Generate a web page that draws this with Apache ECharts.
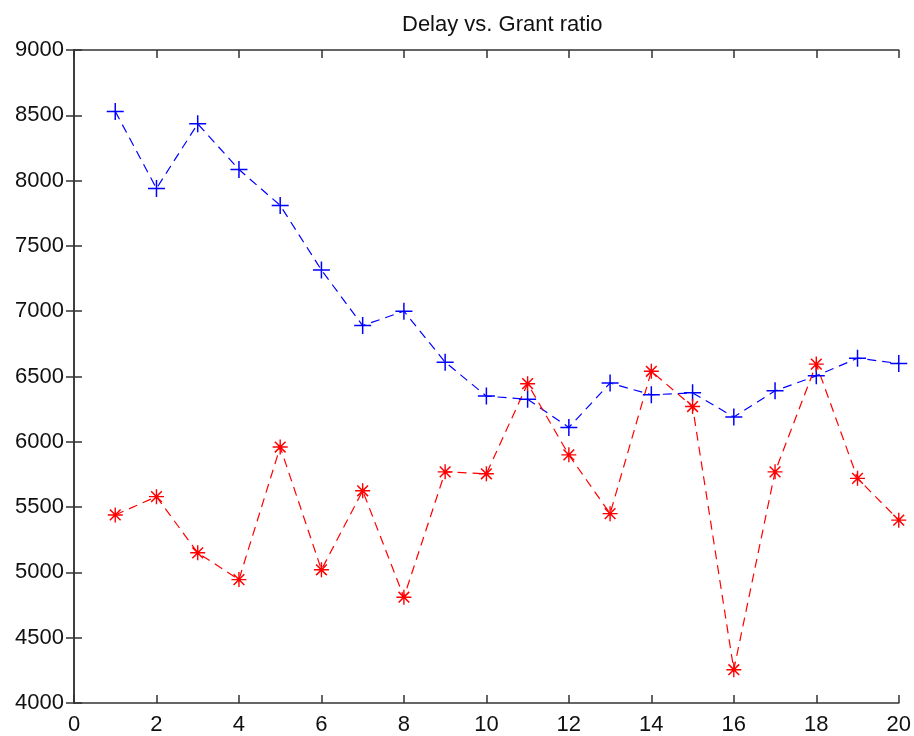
<!DOCTYPE html>
<html>
<head>
<meta charset="utf-8">
<script src="https://cdn.jsdelivr.net/npm/echarts@6/dist/echarts.min.js"></script>
<style>
  html, body { margin: 0; padding: 0; background: #fff; }
  #chart { width: 914px; height: 736px; }
</style>
</head>
<body>
<div id="chart"></div>
<script>
// grant ratio index
var xs = [1, 2, 3, 4, 5, 6, 7, 8, 9, 10, 11, 12, 13, 14, 15, 16, 17, 18, 19, 20];
// blue '+' series
var delayBlue = [8530, 7940, 8435, 8085, 7810, 7315, 6890, 7000, 6610, 6350,
                 6325, 6110, 6450, 6360, 6375, 6190, 6390, 6505, 6640, 6600];
// red '*' series
var delayRed = [5440, 5580, 5150, 4945, 5960, 5020, 5625, 4810, 5770, 5755,
                6445, 5900, 5450, 6540, 6270, 4255, 5770, 6595, 5720, 5400];

function pairs(ys) {
  return xs.map(function (x, i) { return [x, ys[i]]; });
}

var plusPath = 'path://M0,7.3H16V8.7H0Z M7.3,0H8.7V16H7.3Z';
var starPath = 'path://M0,6.35H14V7.65H0Z M6.35,0H7.65V14H6.35Z ' +
  'M1.5,2.5L2.5,1.5L12.5,11.5L11.5,12.5Z M11.5,1.5L12.5,2.5L2.5,12.5L1.5,11.5Z';

var lineCol = '#333';
function labelFont(margin) {
  return { color: '#111', fontSize: 22, fontFamily: 'Liberation Sans', margin: margin };
}
function tick() {
  return { show: true, inside: true, length: 8, lineStyle: { color: lineCol, width: 1.5 } };
}
function axLine() {
  return { show: true, lineStyle: { color: lineCol, width: 1.5 } };
}

var chart = echarts.init(document.getElementById('chart'));
chart.setOption({
  animation: false,
  backgroundColor: '#fff',
  title: {
    text: 'Delay vs. Grant ratio',
    left: 397,
    top: 9,
    textStyle: { color: '#111', fontSize: 22, fontWeight: 'normal', fontFamily: 'Liberation Sans' }
  },
  grid: { left: 74, right: 12, top: 50, bottom: 33 },
  xAxis: [
    {
      type: 'value', min: 0, max: 20, interval: 2,
      axisLine: axLine(),
      axisTick: tick(),
      axisLabel: labelFont(11),
      splitLine: { show: false }
    },
    {
      type: 'value', min: 0, max: 20, interval: 2, position: 'top',
      axisLine: axLine(),
      axisTick: tick(),
      axisLabel: { show: false },
      splitLine: { show: false }
    }
  ],
  yAxis: [
    {
      type: 'value', min: 4000, max: 9000, interval: 500, position: 'left',
      axisLine: axLine(),
      axisTick: tick(),
      axisLabel: Object.assign(labelFont(10), { formatter: function (v) { return String(v); } }),
      splitLine: { show: false }
    },
    {
      type: 'value', min: 4000, max: 9000, interval: 500, position: 'right',
      axisLine: axLine(),
      axisTick: tick(),
      axisLabel: { show: false },
      splitLine: { show: false }
    }
  ],
  series: [
    {
      type: 'line',
      data: pairs(delayBlue),
      symbol: plusPath,
      symbolSize: 17,
      itemStyle: { color: '#0000ff' },
      lineStyle: { color: '#0000ff', width: 1.2, type: [9, 6] },
      clip: false
    },
    {
      type: 'line',
      data: pairs(delayRed),
      symbol: starPath,
      symbolSize: 15,
      itemStyle: { color: '#ff0000' },
      lineStyle: { color: '#ff0000', width: 1.2, type: [9, 6] },
      clip: false
    }
  ]
});
</script>
</body>
</html>
